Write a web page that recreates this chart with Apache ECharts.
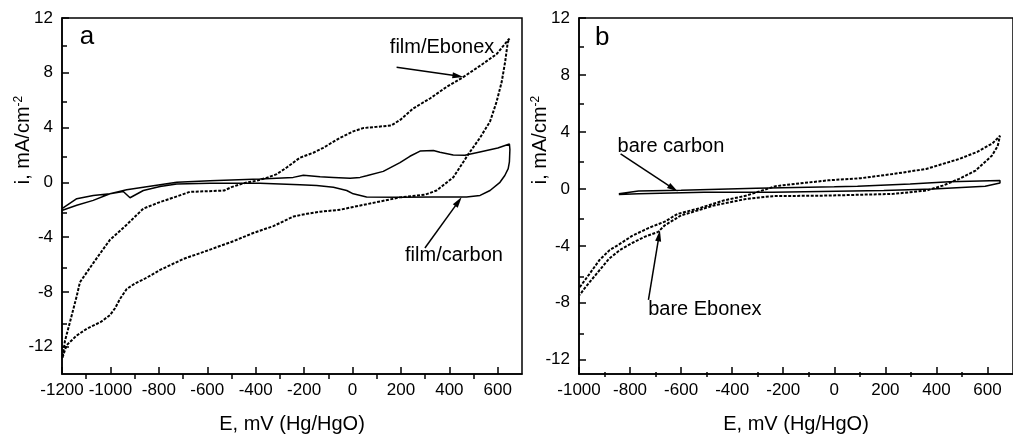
<!DOCTYPE html>
<html><head><meta charset="utf-8">
<script src="https://cdn.jsdelivr.net/npm/echarts@6/dist/echarts.min.js"></script>
<style>html,body{margin:0;padding:0;background:#fff}#c{width:1013px;height:439px}</style>
</head><body><div id="c"></div><script>
// ---- data: [E (mV), i (mA/cm^2)] ----
const filmEbonex = [
 [-1198,-12.8],[-1181,-11.9],[-1140,-11.2],[-1098,-10.7],[-1040,-10.2],[-1002,-9.7],[-981,-9.2],[-960,-8.5],[-933,-7.8],[-900,-7.4],[-864,-7.1],[-795,-6.4],[-699,-5.6],[-602,-5.0],[-492,-4.3],[-410,-3.7],[-327,-3.2],[-244,-2.5],[-189,-2.3],[-134,-2.15],[-50,-2.0],[3,-1.8],[100,-1.45],[196,-1.1],[300,-0.9],[347,-0.6],[416,0.36],[478,2.04],[526,3.24],[568,4.44],[595,5.88],[616,7.32],[630,8.76],[641,10.2],[648,10.5],
 [595,9.36],[526,8.5],[457,7.68],[388,6.96],[320,6.12],[251,5.4],[200,4.6],[160,4.15],[100,4.05],[44,3.96],[3,3.72],[-52,3.24],[-121,2.52],[-162,2.16],[-217,1.8],[-272,1.08],[-313,0.6],[-350,0.35],[-396,0.12],[-451,-0.07],[-500,-0.35],[-530,-0.6],[-600,-0.65],[-672,-0.7],[-720,-1.0],[-795,-1.44],[-864,-1.92],[-933,-3.1],[-1002,-4.2],[-1071,-5.9],[-1126,-7.3],[-1139,-8.3],[-1167,-10.2],[-1188,-11.6],[-1197,-12.7]
];
const filmCarbon = [
 [-1200,-1.92],[-1139,-1.2],[-1071,-0.96],[-1002,-0.84],[-933,-0.55],[-864,-0.36],[-795,-0.17],[-726,0],[-589,0.12],[-382,0.24],[-245,0.36],[-203,0.52],[-134,0.4],[-79,0.36],[-10,0.3],[31,0.36],[58,0.48],[127,0.8],[196,1.44],[237,1.9],[279,2.28],[334,2.33],[361,2.2],[416,2.0],[464,1.98],[526,2.22],[600,2.5],[648,2.8],
 [650,2.4],[648,1.5],[643,1.0],[629,0.5],[609,0],[568,-0.6],[527,-0.96],[471,-1.08],
 [334,-1.08],[196,-1.1],[58,-1.08],[3,-0.84],[-24,-0.6],[-79,-0.36],[-148,-0.24],[-217,-0.17],[-382,-0.07],[-589,-0.07],[-726,-0.12],[-795,-0.31],[-864,-0.6],[-919,-1.13],[-947,-0.67],[-1002,-0.84],[-1071,-1.32],[-1139,-1.68],[-1198,-2.04]
];
const bareEbonex = [
 [-997,-6.9],[-960,-6.0],[-920,-5.0],[-880,-4.3],[-843,-3.9],[-792,-3.3],[-728,-2.75],[-664,-2.3],[-613,-1.75],[-536,-1.4],[-434,-0.82],[-344,-0.47],[-230,0.19],[-152,0.35],[-24,0.6],[104,0.75],[232,1.05],[360,1.4],[489,2.1],[560,2.6],[620,3.2],[649,3.73],
 [640,3.0],[617,2.33],[553,1.28],[489,0.7],[425,0.23],[360,-0.12],[232,-0.35],[-24,-0.47],[-241,-0.51],[-344,-0.7],[-472,-1.17],[-536,-1.52],[-600,-1.86],[-664,-2.56],[-690,-3.02],[-741,-3.35],[-792,-3.8],[-840,-4.3],[-882,-4.9],[-933,-6.0],[-978,-6.98],[-997,-7.45]
];
const bareCarbon = [
 [-844,-0.35],[-767,-0.15],[-600,-0.1],[-306,0.05],[0,0.15],[91,0.19],[297,0.35],[451,0.5],[649,0.58],
 [649,0.42],[591,0.19],[386,0.0],[194,-0.12],[-241,-0.23],[-510,-0.23],[-767,-0.35],[-844,-0.4]
];
// ---- ticks ----
const aXMajor = [-1200,-1000,-800,-600,-400,-200,0,200,400,600];
const aXMinor = [-1100,-900,-700,-500,-300,-100,100,300,500];
const bXMajor = [-1000,-800,-600,-400,-200,0,200,400,600];
const bXMinor = [-900,-700,-500,-300,-100,100,300,500];
const yMajor = [-12,-8,-4,0,4,8,12];
const yMinor = [-10,-6,-2,2,6,10];
// ---- annotations (data coordinates) ----
const aNotes = [
 {text:'a', at:[-1097,10.6], size:26},
 {text:'film/Ebonex', at:[370,9.85], size:20, from:[182,8.4], to:[458,7.7]},
 {text:'film/carbon', at:[419,-5.33], size:20, from:[299,-4.8], to:[451,-1.08]}
];
const bNotes = [
 {text:'b', at:[-909,10.6], size:26},
 {text:'bare carbon', at:[-640,3.0], size:20, from:[-837,2.45], to:[-613,-0.19]},
 {text:'bare Ebonex', at:[-507,-8.45], size:20, from:[-728,-7.8], to:[-683,-2.91]}
];

const FONT = '"Liberation Sans", Arial, Helvetica, sans-serif';
const BLACK = '#000';
const G = [
 {left:62, top:18, width:460, height:361},
 {left:579, top:18, width:443, height:359}
];
const chart = echarts.init(document.getElementById('c'), null, {renderer:'canvas'});
const plain = v => String(v);

function mainX(gi, min, max, major) {
  return {gridIndex:gi, type:'value', min, max,
    axisLine:{show:true, onZero:false, lineStyle:{color:BLACK, width:1.5}},
    axisTick:{show:true, inside:true, length:7, customValues:major, lineStyle:{color:BLACK, width:1.5}},
    axisLabel:{customValues:major, formatter:plain, color:BLACK, fontSize:17, fontFamily:FONT, margin:8},
    splitLine:{show:false},
    name:'E, mV (Hg/HgO)', nameLocation:'middle', nameGap:40,
    nameTextStyle:{color:BLACK, fontSize:20, fontFamily:FONT}};
}
function mainY(gi, min, max) {
  return {gridIndex:gi, type:'value', min, max,
    axisLine:{show:true, onZero:false, lineStyle:{color:BLACK, width:1.5}},
    axisTick:{show:true, inside:true, length:7, customValues:yMajor, lineStyle:{color:BLACK, width:1.5}},
    axisLabel:{customValues:yMajor, formatter:plain, color:BLACK, fontSize:17, fontFamily:FONT, margin:9},
    splitLine:{show:false}};
}
function minorAxis(gi, min, max, vals) {
  return {gridIndex:gi, type:'value', min, max,
    axisLine:{show:false, onZero:false},
    axisTick:{show:true, inside:true, length:5, customValues:vals, lineStyle:{color:BLACK, width:1.5}},
    axisLabel:{show:false}, splitLine:{show:false}};
}
function lineSeries(name, xi, data, dashed) {
  return {name, type:'line', xAxisIndex:xi, yAxisIndex:xi, data, showSymbol:false, symbol:'none',
    smooth:false, animation:false, clip:false,
    lineStyle:{color:BLACK, width: dashed ? 2 : 1.5, type: dashed ? [3,1.5] : 'solid'}};
}

chart.setOption({
  animation:false,
  backgroundColor:'#fff',
  grid:[
    Object.assign({show:true, borderColor:BLACK, borderWidth:1.5, backgroundColor:'transparent'}, G[0]),
    Object.assign({show:true, borderColor:BLACK, borderWidth:1.5, backgroundColor:'transparent'}, G[1]),
    Object.assign({show:false}, G[0]),
    Object.assign({show:false}, G[1])
  ],
  xAxis:[ mainX(0,-1200,700,aXMajor), mainX(1,-1000,700,bXMajor), minorAxis(2,-1200,700,aXMinor), minorAxis(3,-1000,700,bXMinor) ],
  yAxis:[ mainY(0,-14,12), mainY(1,-13,12), minorAxis(2,-14,12,yMinor), minorAxis(3,-13,12,yMinor) ],
  series:[
    lineSeries('film/Ebonex',0,filmEbonex,true),
    lineSeries('film/carbon',0,filmCarbon,false),
    lineSeries('bare Ebonex',1,bareEbonex,true),
    lineSeries('bare carbon',1,bareCarbon,false)
  ]
});

function arrow(p0, p1) {
  const dx=p1[0]-p0[0], dy=p1[1]-p0[1], L=Math.hypot(dx,dy), ux=dx/L, uy=dy/L;
  const hl=11, hw=3;
  const b=[p1[0]-ux*hl, p1[1]-uy*hl];
  return [
    {type:'line', silent:true, shape:{x1:p0[0],y1:p0[1],x2:b[0]+ux*2,y2:b[1]+uy*2}, style:{stroke:BLACK, lineWidth:1.5}},
    {type:'polygon', silent:true, shape:{points:[p1,[b[0]-uy*hw,b[1]+ux*hw],[b[0]+uy*hw,b[1]-ux*hw]]}, style:{fill:BLACK}}
  ];
}
const graphics = [];
[[0,aNotes],[1,bNotes]].forEach(([gi,notes]) => {
  notes.forEach(n => {
    const p = chart.convertToPixel({gridIndex:gi}, n.at);
    graphics.push({type:'text', silent:true, x:p[0], y:p[1],
      style:{text:n.text, fontSize:n.size, fontFamily:FONT, fill:BLACK, align:'center', verticalAlign:'middle'}});
    if (n.from) {
      const a = chart.convertToPixel({gridIndex:gi}, n.from);
      const b = chart.convertToPixel({gridIndex:gi}, n.to);
      graphics.push(...arrow(a,b));
    }
  });
  const g = G[gi];
  graphics.push({type:'text', silent:true, x:g.left-39, y:g.top+122, rotation:Math.PI/2,
    style:{text:'i, mA/cm{sup|-2}', fontSize:20, fontFamily:FONT, fill:BLACK, align:'center', verticalAlign:'middle',
      rich:{sup:{fontSize:12, fontFamily:FONT, fill:BLACK, verticalAlign:'top', lineHeight:20}}}});
});
chart.setOption({graphic:graphics});
</script></body></html>
